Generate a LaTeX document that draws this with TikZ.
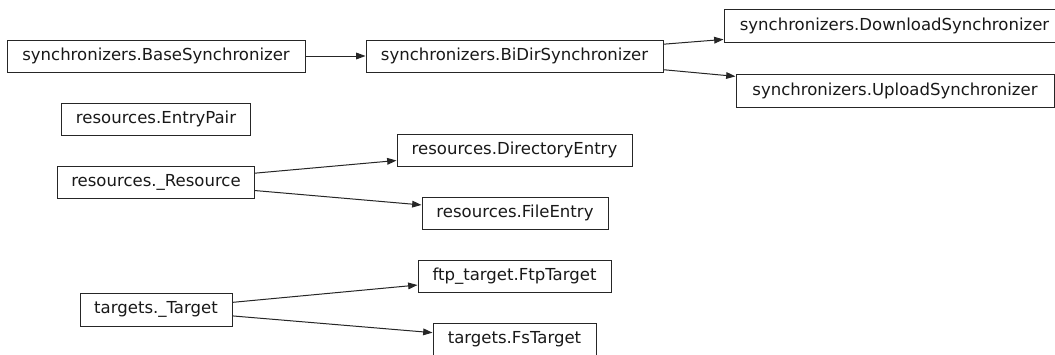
\documentclass[tikz,border=0pt]{standalone}
\usepackage{fontspec}
\setmainfont{DejaVu Sans}
\usetikzlibrary{arrows.meta}
\begin{document}
\begin{tikzpicture}[x=0.75pt,y=-0.75pt,
  cls/.style={draw=black!85, line width=0.75pt, inner sep=0pt, minimum height=24pt,
    text height=0.75em, text depth=0.1em, font=\fontsize{12.4pt}{14pt}\selectfont, text=black!90},
  inh/.style={-{Triangle[length=7pt,width=5pt]}, line width=0.75pt, draw=black!85}]
\fill[white] (0,0) rectangle (1055,354);
\clip (0,0) rectangle (1055,354);
\node[cls, minimum width=223.5pt] (base) at (156,56) {synchronizers.BaseSynchronizer};
\node[cls, minimum width=222.75pt] (bidir) at (514.5,56) {synchronizers.BiDirSynchronizer};
\node[cls, minimum width=255.75pt, minimum height=24.75pt] (download) at (894.5,26) {synchronizers.DownloadSynchronizer};
\node[cls, minimum width=238.5pt, minimum height=24.75pt] (upload) at (895,91) {synchronizers.UploadSynchronizer};
\node[cls, minimum width=141.5pt] (entrypair) at (156,119.5) {resources.EntryPair};
\node[cls, minimum width=147.4pt] (resource) at (156,182) {resources.\_Resource};
\node[cls, minimum width=176.25pt] (direntry) at (514.5,150) {resources.DirectoryEntry};
\node[cls, minimum width=139.5pt] (fileentry) at (515,213) {resources.FileEntry};
\node[cls, minimum width=114pt, minimum height=24.75pt] (target) at (156,309.5) {targets.\_Target};
\node[cls, minimum width=144.75pt] (ftp) at (514.5,276) {ftp\_target.FtpTarget};
\node[cls, minimum width=122.25pt, minimum height=24.75pt] (fs) at (514.5,339.5) {targets.FsTarget};
\draw[inh] (base) -- (bidir);
\draw[inh] (bidir) -- (download);
\draw[inh] (bidir) -- (upload);
\draw[inh] (resource) -- (direntry);
\draw[inh] (resource) -- (fileentry);
\draw[inh] (target) -- (ftp);
\draw[inh] (target) -- (fs);
\end{tikzpicture}
\end{document}
